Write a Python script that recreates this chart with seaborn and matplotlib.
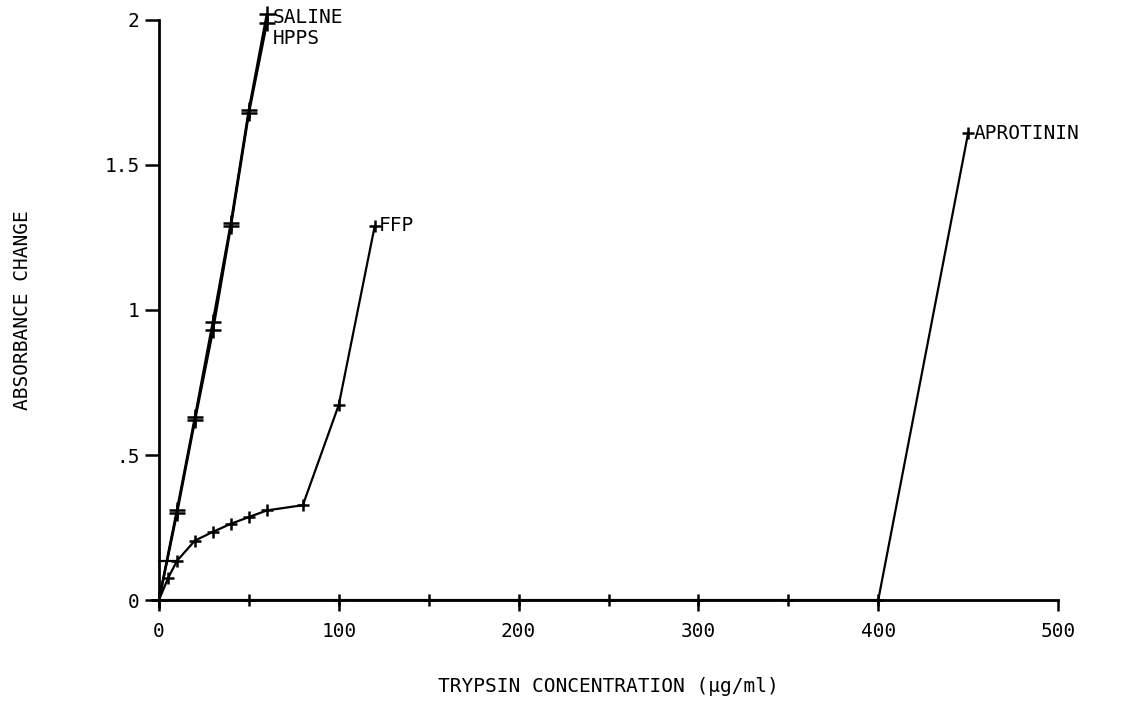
import numpy as np
import pandas as pd
import seaborn as sns
import matplotlib.pyplot as plt

# -------- DATA --------
saline_x = [0, 10, 20, 30, 40, 50, 60]
saline_y = [0, 0.31, 0.63, 0.96, 1.30, 1.69, 2.02]

hpps_x = [0, 10, 20, 30, 40, 50, 60]
hpps_y = [0, 0.30, 0.62, 0.93, 1.29, 1.68, 1.99]

ffp_x = [0, 5, 10, 20, 30, 40, 50, 60, 80, 100, 120]
ffp_y = [0, 0.075, 0.135, 0.205, 0.235, 0.263, 0.286, 0.309, 0.327, 0.673, 1.29]

# short horizontal trace near the origin
start_x = [0, 10]
start_y = [0.135, 0.135]

aprotinin_x = [0, 50, 100, 150, 200, 250, 300, 350, 400, 450]
aprotinin_y = [0, 0, 0, 0, 0, 0, 0, 0, 0, 1.61]

x_ticks = [0, 100, 200, 300, 400, 500]
y_ticks = [0, 0.5, 1, 1.5, 2]
y_tick_labels = ["0", ".5", "1", "1.5", "2"]

# -------- PLOT --------
sns.set_style("ticks", {"axes.edgecolor": "black", "text.color": "black",
                        "xtick.color": "black", "ytick.color": "black",
                        "axes.labelcolor": "black"})
plt.rcParams["font.family"] = ["DejaVu Sans Mono", "DejaVu Sans"]

fig = plt.figure(figsize=(11.22, 7.07), dpi=100)
ax = fig.add_axes([0.1417, 0.1513, 0.8013, 0.8205])

series = [
    ("SALINE", saline_x, saline_y, 1.8, 11),
    ("HPPS", hpps_x, hpps_y, 1.8, 11),
    ("FFP", ffp_x, ffp_y, 1.6, 9),
    ("start", start_x, start_y, 1.6, 0),
    ("APROTININ", aprotinin_x, aprotinin_y, 1.6, 8),
]
for name, xs, ys, lw, ms in series:
    df = pd.DataFrame({"x": xs, "y": ys})
    sns.lineplot(data=df, x="x", y="y", ax=ax, color="black", linewidth=lw,
                 marker="+", markersize=ms, markeredgewidth=1.8,
                 markeredgecolor="black", markerfacecolor="black",
                 sort=False, estimator=None, clip_on=False)

ax.set_xlim(0, 500)
ax.set_ylim(0, 2)
ax.set_xticks(x_ticks)
ax.set_xticklabels([str(t) for t in x_ticks])
ax.set_yticks(y_ticks)
ax.set_yticklabels(y_tick_labels)
ax.tick_params(axis="x", direction="out", length=8, width=1.8, labelsize=14, pad=8)
ax.tick_params(axis="y", direction="out", length=10, width=1.8, labelsize=14, pad=4)

sns.despine(ax=ax)
for s in ["left", "bottom"]:
    ax.spines[s].set_linewidth(2)

ax.set_xlabel("TRYPSIN CONCENTRATION (µg/ml)", fontsize=14, labelpad=26)
ax.set_ylabel("ABSORBANCE CHANGE", fontsize=14, labelpad=52)

ax.text(saline_x[-1] + 3, saline_y[-1] + 0.02, "SALINE\nHPPS", fontsize=14,
        va="top", ha="left", linespacing=1.1)
ax.text(ffp_x[-1] + 2, ffp_y[-1], "FFP", fontsize=14, va="center", ha="left")
ax.text(aprotinin_x[-1] + 3, aprotinin_y[-1], "APROTININ", fontsize=14,
        va="center", ha="left")

fig.savefig("out.png", dpi=100, facecolor="white")
